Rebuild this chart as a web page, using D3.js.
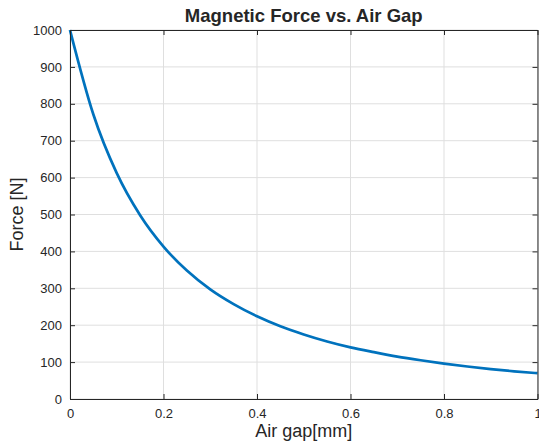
<!DOCTYPE html>
<html>
<head>
<meta charset="utf-8">
<script src="https://cdn.jsdelivr.net/npm/d3@7"></script>
<style>
  body { margin: 0; background: #fff; }
  svg { display: block; font-family: "Liberation Sans", Arial, sans-serif; }
</style>
</head>
<body>
<div id="graph"></div>
<script>
const svgw = 539
const svgh = 446
const margin = { top: 30, right: 1.5, bottom: 47, left: 70 }

// air gap [mm] and force [N]
const gap = [0, 0.05, 0.1, 0.15, 0.2, 0.25, 0.3, 0.35, 0.4, 0.45, 0.5,
    0.55, 0.6, 0.65, 0.7, 0.75, 0.8, 0.85, 0.9, 0.95, 1.0]
const force = [1000, 771, 612, 498, 413, 348, 297, 257, 224, 197, 175,
    156, 140, 127, 115, 105, 96, 88, 81, 75, 70]
const xTicks = [0, 0.2, 0.4, 0.6, 0.8, 1]
const yTicks = [0, 100, 200, 300, 400, 500, 600, 700, 800, 900, 1000]

const data = gap.map((g, i) => ({ x: g, y: force[i] }))

const svg = d3.select('#graph')
    .append('svg')
    .attr('width', svgw)
    .attr('height', svgh)

const x0 = margin.left, x1 = svgw - margin.right
const y0 = svgh - margin.bottom, y1 = margin.top

const xScale = d3.scaleLinear().domain([0, 1]).range([x0, x1])
const yScale = d3.scaleLinear().domain([0, 1000]).range([y0, y1])

// grid
svg.append('g')
    .selectAll('line')
    .data(xTicks)
    .enter()
    .append('line')
    .attr('x1', d => xScale(d)).attr('x2', d => xScale(d))
    .attr('y1', y1).attr('y2', y0)
    .attr('stroke', '#dfdfdf').attr('stroke-width', 1)

svg.append('g')
    .selectAll('line')
    .data(yTicks)
    .enter()
    .append('line')
    .attr('x1', x0).attr('x2', x1)
    .attr('y1', d => yScale(d)).attr('y2', d => yScale(d))
    .attr('stroke', '#dfdfdf').attr('stroke-width', 1)

// curve
svg.append('path')
    .datum(data)
    .attr('fill', 'none')
    .attr('stroke', '#0072BD')
    .attr('stroke-width', 2.7)
    .attr('d', d3.line()
        .x(d => xScale(d.x))
        .y(d => yScale(d.y))
        .curve(d3.curveMonotoneX))

// axes (ticks inward, box on all sides)
const tk = 5
const fmt = d3.format('~g')

svg.append('g')
    .attr('transform', `translate(0,${y0})`)
    .call(d3.axisBottom(xScale).tickValues(xTicks).tickFormat(fmt).tickSizeInner(-tk).tickSizeOuter(0).tickPadding(10))
svg.append('g')
    .attr('transform', `translate(0,${y1})`)
    .call(d3.axisTop(xScale).tickValues(xTicks).tickFormat('').tickSizeInner(-tk).tickSizeOuter(0))
svg.append('g')
    .attr('transform', `translate(${x0},0)`)
    .call(d3.axisLeft(yScale).tickValues(yTicks).tickFormat(d3.format('d')).tickSizeInner(-tk).tickSizeOuter(0).tickPadding(8))
svg.append('g')
    .attr('transform', `translate(${x1},0)`)
    .call(d3.axisRight(yScale).tickValues(yTicks).tickFormat('').tickSizeInner(-tk).tickSizeOuter(0))

svg.selectAll('.domain').attr('stroke', '#262626').attr('stroke-width', 1)
svg.selectAll('.tick line').attr('stroke', '#262626')
svg.selectAll('.tick text')
    .attr('fill', '#262626')
    .style('font-size', '13px')
    .style('font-family', '"Liberation Sans", Arial, sans-serif')

// texts
svg.append('text')
    .attr('x', (x0 + x1) / 2)
    .attr('y', 22)
    .attr('text-anchor', 'middle')
    .attr('font-weight', 'bold')
    .attr('font-size', 18.5)
    .attr('fill', '#262626')
    .text('Magnetic Force vs. Air Gap')

svg.append('text')
    .attr('x', (x0 + x1) / 2)
    .attr('y', 437)
    .attr('text-anchor', 'middle')
    .attr('font-size', 18)
    .attr('fill', '#262626')
    .text('Air gap[mm]')

svg.append('text')
    .attr('transform', `translate(23,${(y0 + y1) / 2}) rotate(-90)`)
    .attr('text-anchor', 'middle')
    .attr('font-size', 18)
    .attr('fill', '#262626')
    .text('Force [N]')
</script>
</body>
</html>
